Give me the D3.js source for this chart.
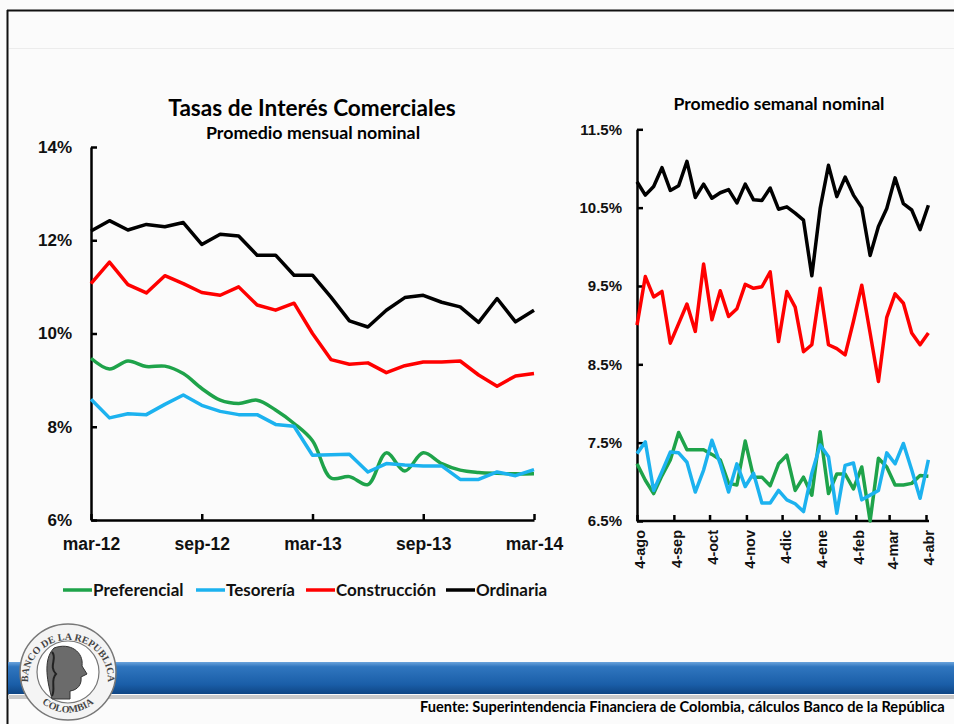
<!DOCTYPE html>
<html>
<head>
<meta charset="utf-8">
<script src="https://cdn.jsdelivr.net/npm/d3@7"></script>
<style>
  body { margin: 0; background: #fbfbfb; }
  svg { display: block; font-family: Lato, "Open Sans", sans-serif; font-weight: bold; }
  .axis path, .axis line { stroke: #000; stroke-width: 2.5; }
  .axis text { fill: #111; font-weight: bold; }
</style>
</head>
<body>
<div id="chart"></div>
<script>
// monthly chart (mar-12 .. mar-14)
var months = ["mar-12","abr-12","may-12","jun-12","jul-12","ago-12","sep-12","oct-12","nov-12","dic-12",
  "ene-13","feb-13","mar-13","abr-13","may-13","jun-13","jul-13","ago-13","sep-13","oct-13","nov-13","dic-13",
  "ene-14","feb-14","mar-14"];
var monthTicks = ["mar-12","sep-12","mar-13","sep-13","mar-14"];
var preferencial = [9.47,9.24,9.41,9.29,9.30,9.14,8.82,8.57,8.50,8.57,8.36,8.07,7.70,6.90,6.93,6.76,7.44,7.05,7.44,7.21,7.07,7.02,7.00,6.99,6.99];
var tesoreria    = [8.59,8.19,8.28,8.26,8.48,8.68,8.46,8.33,8.26,8.26,8.05,8.01,7.39,7.40,7.41,7.03,7.21,7.18,7.16,7.16,6.87,6.87,7.03,6.95,7.08];
var construccion = [11.07,11.53,11.05,10.87,11.24,11.07,10.88,10.82,11.00,10.61,10.50,10.65,10.00,9.44,9.34,9.37,9.16,9.31,9.39,9.39,9.41,9.11,8.87,9.09,9.14];
var ordinaria    = [12.20,12.42,12.22,12.34,12.29,12.38,11.91,12.13,12.09,11.68,11.68,11.25,11.25,10.78,10.27,10.14,10.50,10.77,10.82,10.67,10.57,10.24,10.75,10.25,10.50];
var leftTicks = [6, 8, 10, 12, 14];

// weekly chart (4-ago-2013 .. abr-2014)
var weeks = ["2013-08-04","2013-08-11","2013-08-18","2013-08-25","2013-09-01","2013-09-08","2013-09-15","2013-09-22","2013-09-29",
  "2013-10-06","2013-10-13","2013-10-20","2013-10-27","2013-11-03","2013-11-10","2013-11-17","2013-11-24",
  "2013-12-01","2013-12-08","2013-12-15","2013-12-22","2013-12-29","2014-01-05","2014-01-12","2014-01-19","2014-01-26",
  "2014-02-02","2014-02-09","2014-02-16","2014-02-23","2014-03-02","2014-03-09","2014-03-16","2014-03-23","2014-03-30","2014-04-06"];
var prefSem = [7.23,7.02,6.85,7.08,7.28,7.63,7.41,7.41,7.41,7.35,7.28,6.98,6.96,7.52,7.06,7.06,6.95,7.23,7.34,6.89,7.06,6.83,7.64,6.85,7.10,7.10,6.91,7.19,6.50,7.30,7.19,6.96,6.96,6.98,7.08,7.07];
var tesSem  = [7.36,7.51,6.89,7.13,7.38,7.37,7.25,6.87,7.15,7.53,7.23,6.87,7.23,6.94,7.11,6.73,6.73,6.89,6.77,6.72,6.62,7.11,7.47,7.32,6.60,7.21,7.24,6.77,6.83,6.89,7.37,7.23,7.49,7.15,6.79,7.28];
var consSem = [9.00,9.62,9.36,9.43,8.77,9.02,9.27,8.92,9.78,9.07,9.44,9.11,9.21,9.52,9.47,9.49,9.68,8.79,9.43,9.23,8.66,8.75,9.47,8.75,8.70,8.62,9.05,9.51,8.90,8.28,9.10,9.40,9.28,8.90,8.75,8.90];
var ordSem  = [10.83,10.66,10.77,11.01,10.72,10.78,11.09,10.63,10.80,10.62,10.69,10.73,10.56,10.80,10.60,10.59,10.75,10.48,10.51,10.43,10.34,9.63,10.49,11.04,10.64,10.89,10.66,10.50,9.89,10.26,10.49,10.88,10.55,10.47,10.22,10.53];
var weekTickDates = ["2013-08-04","2013-09-04","2013-10-04","2013-11-04","2013-12-04","2014-01-04","2014-02-04","2014-03-04","2014-04-04"];
var weekTickLabels = ["4-ago","4-sep","4-oct","4-nov","4-dic","4-ene","4-feb","4-mar","4-abr"];
var rightTicks = [6.5, 7.5, 8.5, 9.5, 10.5, 11.5];

var seriesNames = ["Preferencial","Tesorería","Construcción","Ordinaria"];
var colors = ["#1ea34a","#1cb2ef","#ff0000","#000000"];

var W = 954, H = 724;
var svg = d3.select("#chart").append("svg").attr("width", W).attr("height", H);

svg.append("rect").attr("width", W).attr("height", H).attr("fill", "#fbfbfb");
// slide frame
svg.append("line").attr("x1", 7).attr("x2", W).attr("y1", 10.5).attr("y2", 10.5).attr("stroke", "#111").attr("stroke-width", 2);
svg.append("line").attr("x1", 7.5).attr("x2", 7.5).attr("y1", 10).attr("y2", H).attr("stroke", "#111").attr("stroke-width", 2);
svg.append("line").attr("x1", 9).attr("x2", W).attr("y1", 48.5).attr("y2", 48.5).attr("stroke", "#ececec");

// ---------- left chart ----------
var x1 = d3.scalePoint().domain(months).range([91, 534]);
var y1 = d3.scaleLinear().domain([6, 14]).range([520, 147]);

svg.append("g").attr("class", "axis")
    .attr("transform", "translate(91,0)")
    .call(d3.axisLeft(y1).tickValues(leftTicks).tickSizeInner(-6).tickSizeOuter(0).tickPadding(19)
      .tickFormat(function(d) { return d + "%"; }))
    .selectAll("text").style("font-size", "17px");

svg.append("g").attr("class", "axis")
    .attr("transform", "translate(0,520)")
    .call(d3.axisBottom(x1).tickValues(monthTicks).tickSizeInner(-6).tickSizeOuter(0).tickPadding(18))
    .selectAll("text").style("font-size", "17.5px");

var monthly = [preferencial, tesoreria, construccion, ordinaria];
monthly.forEach(function(vals, i) {
  var line = d3.line()
      .x(function(d, j) { return x1(months[j]); })
      .y(function(d) { return y1(d); })
      .curve(i === 0 ? d3.curveCatmullRom.alpha(0.5) : d3.curveLinear);
  svg.append("path").datum(vals)
      .attr("fill", "none").attr("stroke", colors[i]).attr("stroke-width", 3.5)
      .attr("stroke-linejoin", "round").attr("d", line);
});

svg.append("text").attr("x", 312).attr("y", 116).attr("text-anchor", "middle")
    .style("font-size", "22.6px").text("Tasas de Interés Comerciales");
svg.append("text").attr("x", 313).attr("y", 139).attr("text-anchor", "middle")
    .style("font-size", "17.8px").text("Promedio mensual nominal");

// legend
var legX = [63, 196, 306, 446];
seriesNames.forEach(function(n, i) {
  svg.append("line").attr("x1", legX[i]).attr("x2", legX[i] + 29).attr("y1", 590).attr("y2", 590)
      .attr("stroke", colors[i]).attr("stroke-width", 3.5);
  svg.append("text").attr("x", legX[i] + 30).attr("y", 596).style("font-size", "17px").attr("fill", "#111").text(n);
});

// ---------- right chart ----------
var parse = d3.timeParse("%Y-%m-%d");
var x2 = d3.scaleTime().domain([parse("2013-08-04"), parse("2014-04-04")]).range([637, 926]);
var y2 = d3.scaleLinear().domain([6.5, 11.5]).range([521, 129.3]);

svg.append("g").attr("class", "axis")
    .attr("transform", "translate(637,0)")
    .call(d3.axisLeft(y2).tickValues(rightTicks).tickSizeInner(-6).tickSizeOuter(0).tickPadding(15)
      .tickFormat(function(d) { return d.toFixed(1) + "%"; }))
    .selectAll("text").style("font-size", "15px");

var xa = svg.append("g").attr("class", "axis")
    .attr("transform", "translate(0,521)")
    .call(d3.axisBottom(x2).tickValues(weekTickDates.map(parse)).tickSizeInner(-6).tickSizeOuter(0)
      .tickFormat(function(d, i) { return weekTickLabels[i]; }));
xa.select(".domain").attr("d", "M637,0H929");
xa.selectAll("text")
    .style("font-size", "14.5px")
    .style("text-anchor", "end")
    .attr("x", -9).attr("y", 0).attr("dy", ".55em")
    .attr("transform", "rotate(-90)");

var weekly = [prefSem, tesSem, consSem, ordSem];
weekly.forEach(function(vals, i) {
  var line = d3.line()
      .x(function(d, j) { return x2(parse(weeks[j])); })
      .y(function(d) { return y2(d); });
  svg.append("path").datum(vals)
      .attr("fill", "none").attr("stroke", colors[i]).attr("stroke-width", 3.5)
      .attr("stroke-linejoin", "round").attr("d", line);
});

svg.append("text").attr("x", 779).attr("y", 110).attr("text-anchor", "middle")
    .style("font-size", "17.6px").text("Promedio semanal nominal");

// ---------- footer ----------
var defs = svg.append("defs");
var g = defs.append("linearGradient").attr("id", "band").attr("x1", 0).attr("x2", 0).attr("y1", 0).attr("y2", 1);
g.append("stop").attr("offset", "0").attr("stop-color", "#6aa3dc");
g.append("stop").attr("offset", "0.15").attr("stop-color", "#3076bf");
g.append("stop").attr("offset", "0.7").attr("stop-color", "#1a5ea8");
g.append("stop").attr("offset", "1").attr("stop-color", "#0f4684");
svg.append("rect").attr("x", 8).attr("y", 695).attr("width", W).attr("height", 4).attr("fill", "#c9c9c9");
svg.append("rect").attr("x", 8).attr("y", 662).attr("width", W).attr("height", 32).attr("fill", "url(#band)");

// seal
var seal = svg.append("g").attr("transform", "translate(68,672)");
seal.append("circle").attr("r", 48).attr("fill", "#f4f4f4").attr("stroke", "#777").attr("stroke-width", 1.5);
seal.append("circle").attr("r", 31).attr("fill", "#fff").attr("stroke", "#777").attr("stroke-width", 1.2);
defs.append("path").attr("id", "arcTop").attr("d", "M-40,8 A40,40 0 0,1 40,8");
defs.append("path").attr("id", "arcBot").attr("d", "M-36,18 A40,40 0 0,0 36,18");
seal.append("text").style("font-size", "10px").style("font-family", "'Liberation Serif', serif").attr("fill", "#444")
  .append("textPath").attr("href", "#arcTop").attr("startOffset", "50%").attr("text-anchor", "middle")
  .text("BANCO DE LA REPUBLICA");
seal.append("text").style("font-size", "10px").style("font-family", "'Liberation Serif', serif").attr("fill", "#444")
  .append("textPath").attr("href", "#arcBot").attr("startOffset", "50%").attr("text-anchor", "middle").attr("dy", 9)
  .text("COLOMBIA");
seal.append("path").attr("d", "M-14,-24 C2,-30 16,-20 14,-6 L19,2 L13,5 C14,12 10,18 2,19 L2,27 L-16,27 C-20,12 -26,-12 -14,-24 Z")
  .attr("fill", "#6b6b6b").attr("stroke", "#333").attr("stroke-width", 1);
seal.append("path").attr("d", "M-16,-20 C-10,-14 -20,-6 -12,2 C-18,8 -12,16 -16,24")
  .attr("fill", "none").attr("stroke", "#222").attr("stroke-width", 2);

svg.append("text").attr("x", 420).attr("y", 712).style("font-size", "14.6px").attr("fill", "#000")
    .text("Fuente: Superintendencia Financiera de Colombia, cálculos Banco de la República");
</script>
</body>
</html>
